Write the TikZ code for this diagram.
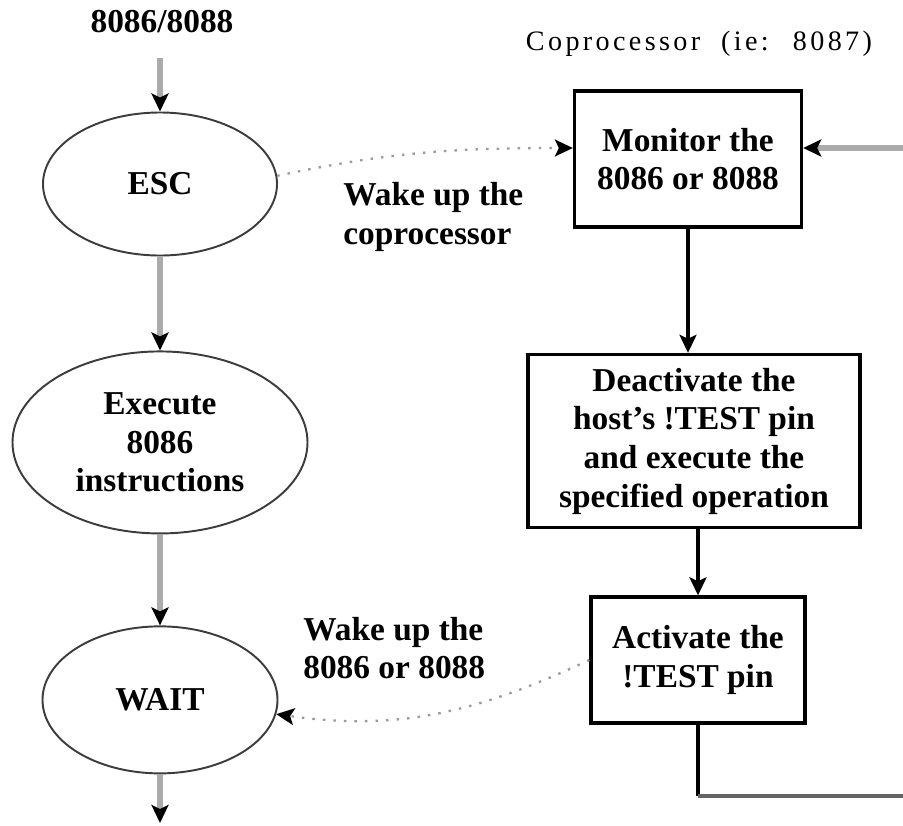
\documentclass[tikz,border=0pt]{standalone}
\usepackage{fontspec}
\setmainfont{Liberation Serif}
\usepackage{tikz}
\usetikzlibrary{arrows.meta, positioning, shapes.geometric}
\definecolor{shaft}{HTML}{ABABAB}
\definecolor{dots}{HTML}{9A9A9A}
\definecolor{rim}{HTML}{3C3C3C}
\tikzset{
  E/.style={ellipse, draw=rim, line width=1.1pt, inner sep=0pt,
    font=\fontsize{19}{22}\selectfont\bfseries, align=center},
  Bx/.style={rectangle, draw=black, line width=1.9pt, inner sep=0pt,
    font=\fontsize{19}{22}\selectfont\bfseries, align=center},
  tip/.style={-{Stealth[length=0.36cm, width=0.34cm, inset=0.08cm, color=black]}},
  Ag/.style={tip, draw=shaft, line width=3pt},
  Ak/.style={tip, draw=black, line width=2.2pt},
  Ad/.style={tip, draw=dots, line width=1.3pt, dash pattern=on 1.4pt off 4.6pt},
  lbl/.style={font=\fontsize{19}{22}\selectfont\bfseries, align=left, inner sep=0pt},
}

\begin{document}
\begin{tikzpicture}
\useasboundingbox (0,0) rectangle (18.06,-16.5);

% ── HOST SIDE (left column) ──────────────────────────────────────────
\node[lbl] (host) at (3.24,-0.44) {8086/8088};
\coordinate (hin) at (3.2,-1.16);
\node[E, minimum width=4.68cm, minimum height=2.86cm] (esc) at (3.2,-3.68) {ESC};
\draw[Ag] (hin) -- (esc.north);

\node[E, minimum width=5.9cm, minimum height=3.64cm, below=1.88cm of esc] (exe)
  {Execute\\8086\\instructions};
\draw[Ag] (esc.south) -- (exe.north);

\node[E, minimum width=4.7cm, minimum height=2.94cm, below=1.82cm of exe] (wait) {WAIT};
\draw[Ag] (exe.south) -- (wait.north);
\coordinate (hout) at (3.2,-16.46);
\draw[Ag] (wait.south) -- (hout);

% ── COPROCESSOR SIDE (right column) ──────────────────────────────────
\node[lbl, font=\fontsize{16}{18}\selectfont\addfontfeature{LetterSpace=12}]
  (cop) at (13.98,-0.88) {Coprocessor \ (ie: \ 8087)};

\node[Bx, minimum width=4.54cm, minimum height=2.72cm] (mon) at (13.76,-3.18)
  {Monitor the\\8086 or 8088};
\node[Bx, minimum width=6.64cm, minimum height=3.46cm] (deact) at (13.88,-8.82)
  {Deactivate the\\host's !TEST pin\\and execute the\\specified operation};
\draw[Ak] (mon.south) -- (mon.south |- deact.north);

\node[Bx, minimum width=4.28cm, minimum height=2.52cm] (act) at (13.96,-13.2)
  {Activate the\\!TEST pin};
\draw[Ak] (act.north |- deact.south) -- (act.north);

% loop back round to the monitor box
\coordinate (ret) at (18.06,-2.96);
\draw[Ag] (ret) -- (mon.east |- ret);
\coordinate (loop) at (13.96,-15.92);
\draw[draw=black, line width=2.2pt] (act.south) -- (loop);
\draw[draw=rim!80, line width=2.4pt] (loop) -- (18.06,-15.92);

% ── WAKE-UP SIGNALS ──────────────────────────────────────────────────
\draw[Ad] (esc.4) to[out=12, in=180] (mon.west |- ret);
\node[lbl, anchor=west] (wk1) at (6.86,-4.34) {Wake up the\\coprocessor};

\draw[Ad] (act.west) to[out=205, in=-8] (wait.-7);
\node[lbl, anchor=west] (wk2) at (6.06,-12.96) {Wake up the\\8086 or 8088};

\end{tikzpicture}
\end{document}
